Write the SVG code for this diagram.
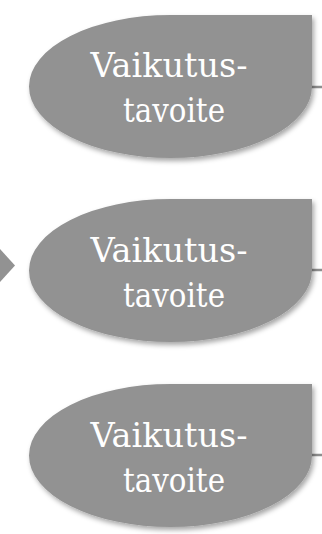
<svg xmlns="http://www.w3.org/2000/svg" width="322" height="534" viewBox="0 0 322 534">
<style>
.shape{fill:#929292;filter:url(#sh)}
.lbl{font-family:"DejaVu Serif","Liberation Serif",serif;font-size:33px;fill:#ffffff;text-anchor:middle}
.conn{stroke:#8e8e8e;stroke-width:2.5;fill:none}
.chev{fill:#929292}
</style>
<defs>
<filter id="sh" x="-10%" y="-10%" width="125%" height="130%">
<feDropShadow dx="2" dy="3" stdDeviation="2.5" flood-color="#000" flood-opacity="0.35"/>
</filter>
<path id="drop" d="M-141.5,0 A141.5,71.5 0 0 1 0,-71.5 L141.5,-71.5 L141.5,0 A141.5,71.5 0 0 1 0,71.5 A141.5,71.5 0 0 1 -141.5,0 Z"/>
</defs>
<rect width="322" height="534" fill="#ffffff"/>
<g id="connectors">
<line class="conn" x1="311" y1="87" x2="322" y2="87"/>
<line class="conn" x1="311" y1="270" x2="322" y2="270"/>
<line class="conn" x1="311" y1="455" x2="322" y2="455"/>
<polygon class="chev" points="0,249 15,265.5 0,282"/>
</g>
<g id="node1" transform="translate(170.5,86.5)">
<use href="#drop" class="shape"/>
<text class="lbl" x="-1.5" y="-9.5" textLength="157" lengthAdjust="spacingAndGlyphs">Vaikutus-</text>
<text class="lbl" x="3.5" y="35.5" textLength="102" lengthAdjust="spacingAndGlyphs">tavoite</text>
</g>
<g id="node2" transform="translate(170.5,270.5)">
<use href="#drop" class="shape"/>
<text class="lbl" x="-1.5" y="-9" textLength="157" lengthAdjust="spacingAndGlyphs">Vaikutus-</text>
<text class="lbl" x="3.5" y="36.5" textLength="102" lengthAdjust="spacingAndGlyphs">tavoite</text>
</g>
<g id="node3" transform="translate(170.5,455.5)">
<use href="#drop" class="shape"/>
<text class="lbl" x="-1.5" y="-9" textLength="157" lengthAdjust="spacingAndGlyphs">Vaikutus-</text>
<text class="lbl" x="3.5" y="36" textLength="102" lengthAdjust="spacingAndGlyphs">tavoite</text>
</g>
</svg>
